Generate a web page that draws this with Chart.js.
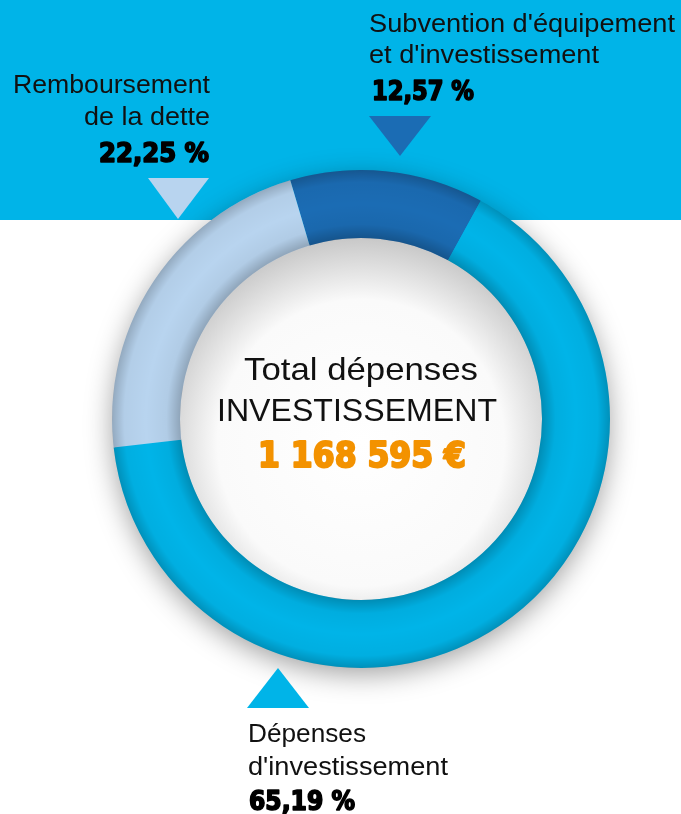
<!DOCTYPE html>
<html>
<head>
<meta charset="utf-8">
<script src="https://cdn.jsdelivr.net/npm/chart.js@4"></script>
<style>
  html, body { margin: 0; padding: 0; background: #fff; }
  #wrap { width: 681px; height: 814px; }
</style>
</head>
<body>
<div id="wrap"><canvas id="chart" width="681" height="814"></canvas></div>
<script>
// data
const categories = ["Subvention d'équipement et d'investissement", "Dépenses d'investissement", "Remboursement de la dette"];
const shares = [12.57, 65.19, 22.25];
const sliceColors = ["#1b6cb4", "#00b4e8", "#b8d4ef"];
const centerTitle = ["Total dépenses", "INVESTISSEMENT"];
const centerTotal = "1 168 595 €";

const BAND = "#00b4e8";
const pct = v => v.toFixed(2).replace(".", ",") + " %";
const REG = "'Liberation Sans', Arial, sans-serif";
const BOLD = "'DejaVu Sans Condensed', 'Liberation Sans Narrow', sans-serif";

// draw text squeezed/stretched to a given width, optional stroke to make it heavier
function fitText(ctx, text, x, y, font, width, align, color, heavy) {
    ctx.save();
    ctx.font = font;
    ctx.fillStyle = color || "#111";
    ctx.textBaseline = "alphabetic";
    const w = ctx.measureText(text).width;
    const s = width / w;
    ctx.translate(x, y);
    ctx.scale(s, 1);
    ctx.textAlign = align;
    ctx.fillText(text, 0, 0);
    if (heavy) {
        ctx.strokeStyle = color;
        ctx.lineWidth = heavy;
        ctx.lineJoin = "round";
        ctx.strokeText(text, 0, 0);
    }
    ctx.restore();
}

function tri(ctx, pts, color) {
    ctx.beginPath();
    ctx.moveTo(pts[0], pts[1]);
    ctx.lineTo(pts[2], pts[3]);
    ctx.lineTo(pts[4], pts[5]);
    ctx.closePath();
    ctx.fillStyle = color;
    ctx.fill();
}

const backdrop = {
    id: "backdrop",
    beforeDraw(chart) {
        const ctx = chart.ctx;
        ctx.save();
        ctx.fillStyle = "#fff";
        ctx.fillRect(0, 0, chart.width, chart.height);
        ctx.fillStyle = BAND;
        ctx.fillRect(0, 0, chart.width, 220);
        ctx.restore();
    },
    beforeDatasetsDraw(chart) {
        // soft shadow under the ring
        const arc = chart.getDatasetMeta(0).data[0];
        const ctx = chart.ctx;
        ctx.save();
        ctx.shadowColor = "rgba(0,0,0,0.38)";
        ctx.shadowBlur = 28;
        ctx.shadowOffsetY = 7;
        ctx.beginPath();
        ctx.arc(arc.x, arc.y, arc.outerRadius - 1, 0, Math.PI * 2);
        ctx.arc(arc.x, arc.y, arc.innerRadius + 1, 0, Math.PI * 2, true);
        ctx.fillStyle = "#00b4e8";
        ctx.fill();
        ctx.restore();
        // inner disk shading
        ctx.save();
        const g = ctx.createRadialGradient(arc.x, arc.y + 24, 0, arc.x, arc.y + 24, arc.innerRadius + 24);
        g.addColorStop(0, "#ffffff");
        g.addColorStop(0.7, "#fafafa");
        g.addColorStop(1, "#c8c8c8");
        ctx.beginPath();
        ctx.arc(arc.x, arc.y, arc.innerRadius, 0, Math.PI * 2);
        ctx.fillStyle = g;
        ctx.fill();
        ctx.restore();
    },
    afterDatasetsDraw(chart) {
        // tube shading on the ring
        const arc = chart.getDatasetMeta(0).data[0];
        const ctx = chart.ctx;
        const r0 = arc.innerRadius, r1 = arc.outerRadius;
        ctx.save();
        const g = ctx.createRadialGradient(arc.x, arc.y, r0, arc.x, arc.y, r1);
        g.addColorStop(0, "rgba(0,0,0,0.22)");
        g.addColorStop(0.2, "rgba(0,0,0,0.04)");
        g.addColorStop(0.5, "rgba(0,0,0,0)");
        g.addColorStop(0.82, "rgba(0,0,0,0.03)");
        g.addColorStop(1, "rgba(0,0,0,0.2)");
        ctx.beginPath();
        ctx.arc(arc.x, arc.y, r1, 0, Math.PI * 2);
        ctx.arc(arc.x, arc.y, r0, 0, Math.PI * 2, true);
        ctx.fillStyle = g;
        ctx.fill();
        ctx.restore();
    },
    afterDraw(chart) {
        const ctx = chart.ctx;
        const arc = chart.getDatasetMeta(0).data[0];

        // Remboursement de la dette
        fitText(ctx, "Remboursement", 210, 93, "25px " + REG, 197, "right");
        fitText(ctx, "de la dette", 210, 125, "25px " + REG, 126, "right");
        fitText(ctx, pct(shares[2]), 209, 162, "bold 27px " + BOLD, 110, "right", "#000", 1.6);
        tri(ctx, [148, 178, 209, 178, 178, 219], sliceColors[2]);

        // Subvention
        fitText(ctx, "Subvention d'équipement", 369, 32, "25px " + REG, 306, "left");
        fitText(ctx, "et d'investissement", 369, 63, "25px " + REG, 230, "left");
        fitText(ctx, pct(shares[0]), 372, 100, "bold 27px " + BOLD, 102, "left", "#000", 1.6);
        tri(ctx, [369, 116, 431, 116, 400, 156], sliceColors[0]);

        // Dépenses
        tri(ctx, [247, 708, 309, 708, 278, 668], sliceColors[1]);
        fitText(ctx, "Dépenses", 248, 742, "25px " + REG, 118, "left");
        fitText(ctx, "d'investissement", 248, 775, "25px " + REG, 200, "left");
        fitText(ctx, pct(shares[1]), 249, 810, "bold 27px " + BOLD, 106, "left", "#000", 1.6);

        // centre
        fitText(ctx, centerTitle[0], arc.x, 380, "32px " + REG, 234, "center");
        fitText(ctx, centerTitle[1], arc.x - 4, 421, "32px " + REG, 280, "center");
        fitText(ctx, centerTotal, arc.x + 1, 467, "bold 35px " + BOLD, 208, "center", "#f39200", 2);
    }
};

new Chart(document.getElementById("chart"), {
    type: "doughnut",
    data: {
        labels: categories,
        datasets: [{
            data: shares,
            backgroundColor: sliceColors,
            borderWidth: 0,
            hoverOffset: 0
        }]
    },
    options: {
        responsive: false,
        animation: false,
        rotation: -16.5,
        cutout: "72.7%",
        layout: { padding: { left: 112, right: 71, top: 170, bottom: 146 } },
        plugins: {
            legend: { display: false },
            tooltip: { enabled: false }
        }
    },
    plugins: [backdrop]
});
</script>
</body>
</html>
